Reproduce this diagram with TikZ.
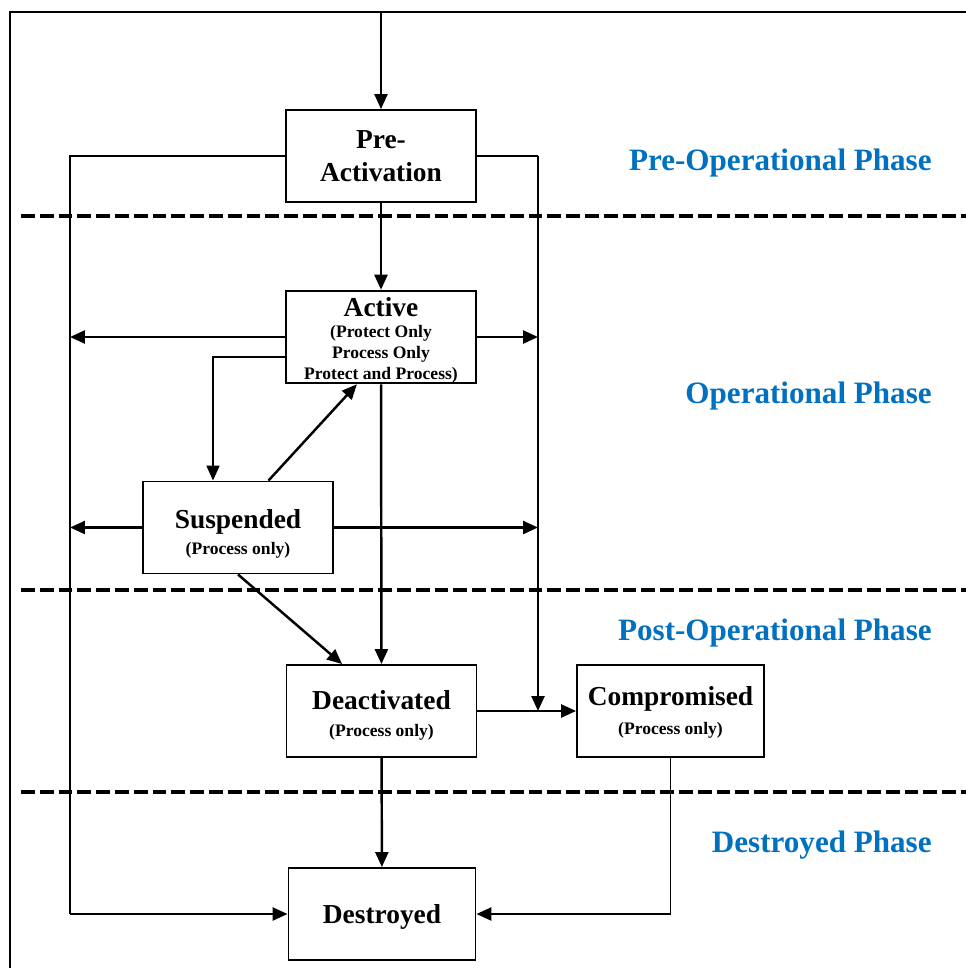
\documentclass[tikz,border=0pt]{standalone}
\usepackage{fontspec}
\setmainfont{Liberation Serif}
\usetikzlibrary{arrows.meta}

\definecolor{phaseblue}{RGB}{0,112,192}
\newcommand{\boxfont}{\fontsize{15.6}{18}\selectfont\bfseries}
\newcommand{\notefont}{\fontsize{10}{12}\selectfont\bfseries}
\newcommand{\dropby}[1]{\rule{0pt}{\dimexpr 10.6pt+#1\relax}}

\tikzset{
  state/.style={draw, line width=1.1pt, minimum width=3.8cm, minimum height=1.84cm,
    inner sep=0pt, align=center, font=\boxfont},
  conn/.style={line width=1.4pt, -{Triangle[length=0.3cm,width=0.26cm]}},
  thinline/.style={line width=0.7pt},
  phaseline/.style={line width=2.3pt, dash pattern=on 7.9pt off 2.8pt},
  phase/.style={anchor=east, inner sep=0pt, text=phaseblue, font=\fontsize{17.7}{20}\selectfont\bfseries}
}

\begin{document}
\begin{tikzpicture}[x=0.02cm, y=-0.02cm]
        \useasboundingbox (0,0) rectangle (966,968);

        % frame
        \draw[line width=1.3pt] (10,968) -- (10,12) -- (966,12);

        % phase borders
        \draw[phaseline] (21,216) -- (966,216);
        \draw[phaseline] (21,590) -- (966,590);
        \draw[phaseline] (21,792) -- (966,792);

        \begin{scope}[every node/.style={phase}]
          \node (prephase)  at (932,163) {Pre-Operational Phase};
          \node (opphase)   at (932,396) {Operational Phase};
          \node (postphase) at (932,633) {Post-Operational Phase};
          \node (desphase)  at (932,845) {Destroyed Phase};
        \end{scope}

        \begin{scope}[every node/.style={state}]
          \node (pre)   at (381,156)   {Pre-\\[0.7pt]Activation};
          \node (act)   at (381,337)   {\dropby{4pt}Active\\[-6pt]{\notefont (Protect Only}\\[-6pt]{\notefont Process Only}\\[-6pt]{\notefont Protect and Process)}};
          \node (susp)  at (238,527.5) {\dropby{7.4pt}Suspended\\[-3pt]{\notefont (Process only)}};
          \node (deact) at (381.5,711) {\dropby{5.1pt}Deactivated\\[-3pt]{\notefont (Process only)}};
          \node[minimum width=3.74cm] (comp) at (670.5,711) {\dropby{1.7pt}Compromised\\[-1.5pt]{\notefont (Process only)}};
          \node[minimum width=3.74cm] (dest) at (382,914)   {\dropby{3.4pt}Destroyed};
        \end{scope}

        \coordinate (entry) at (381,12);
        \coordinate (ltop)  at (70,156);
        \coordinate (lbot)  at (70,914);
        \coordinate (rtop)  at (538,156);
        \coordinate (rbot)  at (538,711);
        \coordinate (abend) at (213,357);

        \begin{scope}[every edge/.style={draw, conn}]
          \path (entry) edge (pre.north);
          \path (pre)   edge (act);
          \path (act)   edge (deact);
          \path (deact) edge (dest);
          \path (deact) edge (comp);
        \end{scope}

        % side buses
        \draw[thinline] (pre.west) -- (ltop) -- (lbot);
        \draw[conn] (lbot) -- (dest.west);
        \draw[thinline] (pre.east) -- (rtop);
        \draw[conn] (rtop) -- (rbot);
        \draw[thinline] (comp.south) -- (comp.south |- dest.east);
        \draw[conn] (comp.south |- dest.east) -- (dest.east);

        \draw[conn] (act.west) -- (act.west -| ltop);
        \draw[conn] (act.east) -- (act.east -| rtop);
        \draw[conn] (susp.west) -- (susp.west -| ltop);
        \draw[conn] (susp.east) -- (susp.east -| rtop);

        \draw[conn, line width=1pt] (act.west |- abend) -- (abend) -- (abend |- susp.north);
        \draw[conn] (susp.57) -- (act.243);
        \draw[conn] (susp.south) -- (deact.130);

      \end{tikzpicture}
\end{document}
